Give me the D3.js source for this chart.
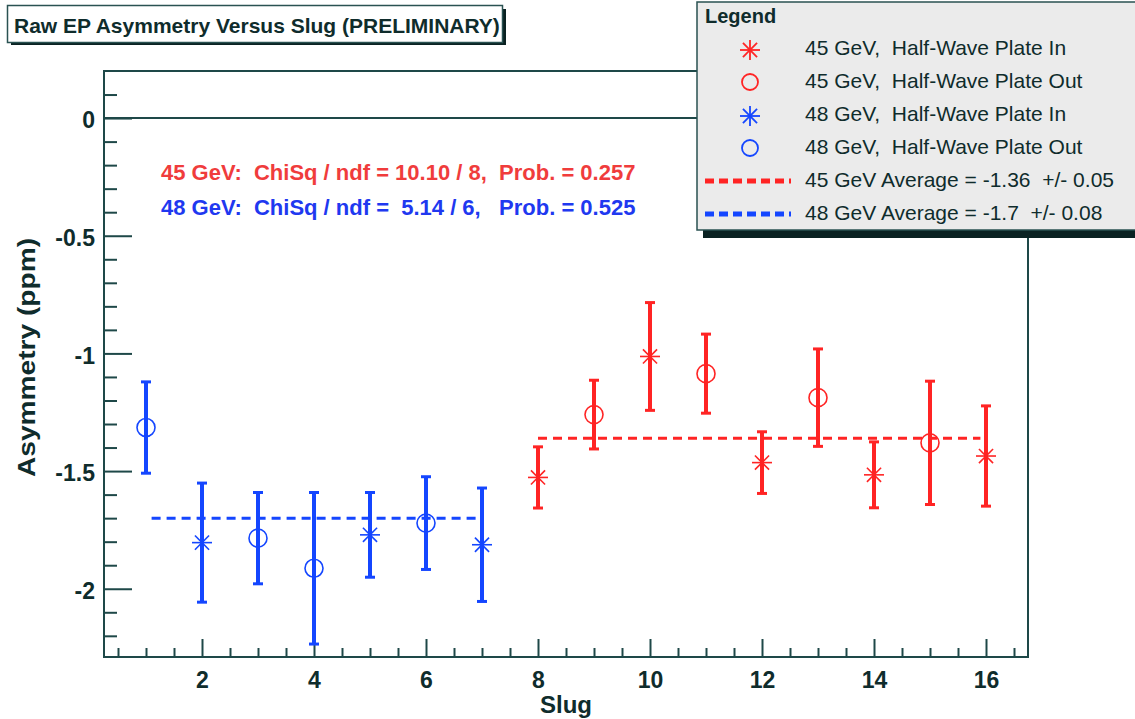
<!DOCTYPE html>
<html>
<head>
<meta charset="utf-8">
<script src="https://cdn.jsdelivr.net/npm/d3@7"></script>
<style>
  body { margin: 0; background: #ffffff; }
  text { font-family: "Liberation Sans", Arial, Helvetica, sans-serif; white-space: pre; }
</style>
</head>
<body>
<script>
// ---------------- data ----------------
const slugs      = [1, 2, 3, 4, 5, 6, 7, 8, 9, 10, 11, 12, 13, 14, 15, 16];
const asymmetry  = [-1.315, -1.804, -1.785, -1.913, -1.771, -1.721, -1.813,
                    -1.527, -1.260, -1.013, -1.086, -1.464, -1.188, -1.516, -1.380, -1.436];
const errors     = [0.194, 0.253, 0.194, 0.322, 0.180, 0.197, 0.241,
                    0.130, 0.146, 0.229, 0.168, 0.131, 0.207, 0.140, 0.262, 0.213];
const beamEnergy = ["48", "48", "48", "48", "48", "48", "48",
                    "45", "45", "45", "45", "45", "45", "45", "45", "45"];
const halfWave   = ["Out", "In", "Out", "Out", "In", "Out", "In",
                    "In", "Out", "In", "Out", "In", "Out", "In", "Out", "In"];

const avgEnergy  = ["45", "48"];
const avgValues  = [-1.36, -1.70];
const avgFrom    = [8, 1.1];
const avgTo      = [15.9, 6.9];

const legendLabels = [
  "45 GeV,  Half-Wave Plate In",
  "45 GeV,  Half-Wave Plate Out",
  "48 GeV,  Half-Wave Plate In",
  "48 GeV,  Half-Wave Plate Out",
  "45 GeV Average = -1.36  +/- 0.05",
  "48 GeV Average = -1.7  +/- 0.08"
];
const legendEnergy = ["45", "45", "48", "48", "45", "48"];
const legendKind   = ["In", "Out", "In", "Out", "avg", "avg"];

const statsLines  = [
  "45 GeV:  ChiSq / ndf = 10.10 / 8,  Prob. = 0.257",
  "48 GeV:  ChiSq / ndf =  5.14 / 6,   Prob. = 0.525"
];
const statsEnergy = ["45", "48"];

const xTickValues = [2, 4, 6, 8, 10, 12, 14, 16];
const yTickValues = [0, -0.5, -1, -1.5, -2];
const titleText  = "Raw EP Asymmetry Versus Slug (PRELIMINARY)";
const xTitle     = "Slug";
const yTitle     = "Asymmetry (ppm)";

// ---------------- styles ----------------
const color = { "45": "#ff2424", "48": "#1446ff" };
const textColor = { "45": "#f03c3c", "48": "#2038f0" };
const ink = "#0f2c2c";
const axisInk = "#1e4848";

const W = 1135, H = 719;
const svg = d3.select("body").append("svg").attr("width", W).attr("height", H);

const x = d3.scaleLinear().domain([0.25, 16.75]).range([104, 1028]);
const y = d3.scaleLinear().domain([-2.29, 0.2]).range([657, 71]);

// frame
svg.append("rect")
  .attr("x", x.range()[0]).attr("y", y.range()[1])
  .attr("width", x.range()[1] - x.range()[0])
  .attr("height", y.range()[0] - y.range()[1])
  .attr("fill", "#fff").attr("stroke", axisInk).attr("stroke-width", 2);

// zero line
svg.append("line")
  .attr("x1", x.range()[0]).attr("x2", x.range()[1])
  .attr("y1", y(0)).attr("y2", y(0))
  .attr("stroke", axisInk).attr("stroke-width", 2);

// axes
function styleAxis(g) {
  g.select(".domain").remove();
  g.selectAll(".tick line").attr("stroke", axisInk).attr("stroke-width", 2);
  g.selectAll(".tick text").attr("fill", ink)
    .style("font-size", "23px").style("font-weight", "bold");
}
const xMinor = d3.range(0.5, 16.6, 0.5).filter(v => !xTickValues.includes(v));
const yMinor = d3.range(-22, 2, 1).map(v => v / 10).filter(v => !yTickValues.some(t => Math.abs(t - v) < 1e-9));

svg.append("g").attr("transform", `translate(0,${y.range()[0]})`)
  .call(d3.axisBottom(x).tickValues(xMinor).tickSize(-9).tickFormat(""))
  .call(styleAxis);
svg.append("g").attr("transform", `translate(0,${y.range()[0]})`)
  .call(d3.axisBottom(x).tickValues(xTickValues).tickSizeInner(-18).tickSizeOuter(0)
        .tickPadding(15).tickFormat(d => String(d)))
  .call(styleAxis);
svg.append("g").attr("transform", `translate(${x.range()[0]},0)`)
  .call(d3.axisLeft(y).tickValues(yMinor).tickSize(-13).tickFormat(""))
  .call(styleAxis);
svg.append("g").attr("transform", `translate(${x.range()[0]},0)`)
  .call(d3.axisLeft(y).tickValues(yTickValues).tickSizeInner(-28).tickSizeOuter(0)
        .tickPadding(9).tickFormat(d => String(d)))
  .call(styleAxis)
  .call(g => g.selectAll(".tick text").attr("dy", "0.42em"));

// axis titles
svg.append("text")
  .attr("x", (x.range()[0] + x.range()[1]) / 2).attr("y", 713)
  .attr("text-anchor", "middle").attr("fill", ink)
  .style("font-size", "24px").style("font-weight", "bold")
  .text(xTitle);
svg.append("text")
  .attr("transform", `translate(35,${(238 + 477) / 2}) rotate(-90)`)
  .attr("text-anchor", "middle").attr("fill", ink)
  .attr("textLength", 239).attr("lengthAdjust", "spacingAndGlyphs")
  .style("font-size", "23px").style("font-weight", "bold")
  .text(yTitle);

// average lines
avgValues.forEach((v, i) => {
  svg.append("line")
    .attr("x1", x(avgFrom[i])).attr("x2", x(avgTo[i]))
    .attr("y1", y(v)).attr("y2", y(v))
    .attr("stroke", color[avgEnergy[i]]).attr("stroke-width", 3)
    .attr("stroke-dasharray", "9,6");
});

// markers
function star(g, cx, cy, r, col, w) {
  const d = r * Math.SQRT1_2;
  const segs = [[-r, 0, r, 0], [0, -r, 0, r], [-d, -d, d, d], [-d, d, d, -d]];
  segs.forEach(s => g.append("line")
    .attr("x1", cx + s[0]).attr("y1", cy + s[1]).attr("x2", cx + s[2]).attr("y2", cy + s[3])
    .attr("stroke", col).attr("stroke-width", w));
}
function ring(g, cx, cy, r, col, w) {
  g.append("circle").attr("cx", cx).attr("cy", cy).attr("r", r)
    .attr("fill", "none").attr("stroke", col).attr("stroke-width", w);
}

// error bars + points
const pts = svg.append("g");
slugs.forEach((s, i) => {
  const col = color[beamEnergy[i]];
  const cx = x(s);
  const yTop = y(asymmetry[i] + errors[i]);
  const yBot = y(asymmetry[i] - errors[i]);
  pts.append("line").attr("x1", cx).attr("x2", cx).attr("y1", yTop).attr("y2", yBot)
    .attr("stroke", col).attr("stroke-width", 4);
  [yTop, yBot].forEach(yy => pts.append("line")
    .attr("x1", cx - 5).attr("x2", cx + 5).attr("y1", yy).attr("y2", yy)
    .attr("stroke", col).attr("stroke-width", 3));
  if (halfWave[i] === "In") star(pts, cx, y(asymmetry[i]), 10, col, 1.6);
  else ring(pts, cx, y(asymmetry[i]), 9, col, 1.6);
});

// fit statistics text
statsLines.forEach((t, i) => {
  svg.append("text")
    .attr("x", 161).attr("y", 180 + i * 35)
    .attr("fill", textColor[statsEnergy[i]])
    .style("font-size", "22px").style("font-weight", "bold")
    .text(t);
});

// title box
svg.append("rect").attr("x", 11).attr("y", 9).attr("width", 495).attr("height", 36).attr("fill", "#0a2222");
svg.append("rect").attr("x", 7.5).attr("y", 5.5).attr("width", 495).attr("height", 37)
  .attr("fill", "#fff").attr("stroke", "#2a5252").attr("stroke-width", 1.5);
svg.append("text").attr("x", 14).attr("y", 33).attr("fill", ink)
  .style("font-size", "21px").style("font-weight", "bold").text(titleText);

// legend box
svg.append("rect").attr("x", 703).attr("y", 8).attr("width", 500).attr("height", 230).attr("fill", "#0a2222");
svg.append("rect").attr("x", 697).attr("y", 2).attr("width", 500).attr("height", 228)
  .attr("fill", "#ebebeb").attr("stroke", "#2a5252").attr("stroke-width", 1.5);
svg.append("text").attr("x", 705).attr("y", 23).attr("fill", ink)
  .style("font-size", "20px").style("font-weight", "bold").text("Legend");

const leg = svg.append("g");
legendLabels.forEach((lab, i) => {
  const base = 55 + i * 33;
  const col = color[legendEnergy[i]];
  if (legendKind[i] === "In") star(leg, 750, base - 5, 10, col, 1.8);
  else if (legendKind[i] === "Out") ring(leg, 750, base - 6, 8, col, 1.8);
  else leg.append("line").attr("x1", 705).attr("x2", 791)
    .attr("y1", base - 6).attr("y2", base - 6)
    .attr("stroke", col).attr("stroke-width", 5).attr("stroke-dasharray", "9,5");
  leg.append("text").attr("x", 805).attr("y", base).attr("fill", ink)
    .style("font-size", "21px").text(lab);
});
</script>
</body>
</html>
